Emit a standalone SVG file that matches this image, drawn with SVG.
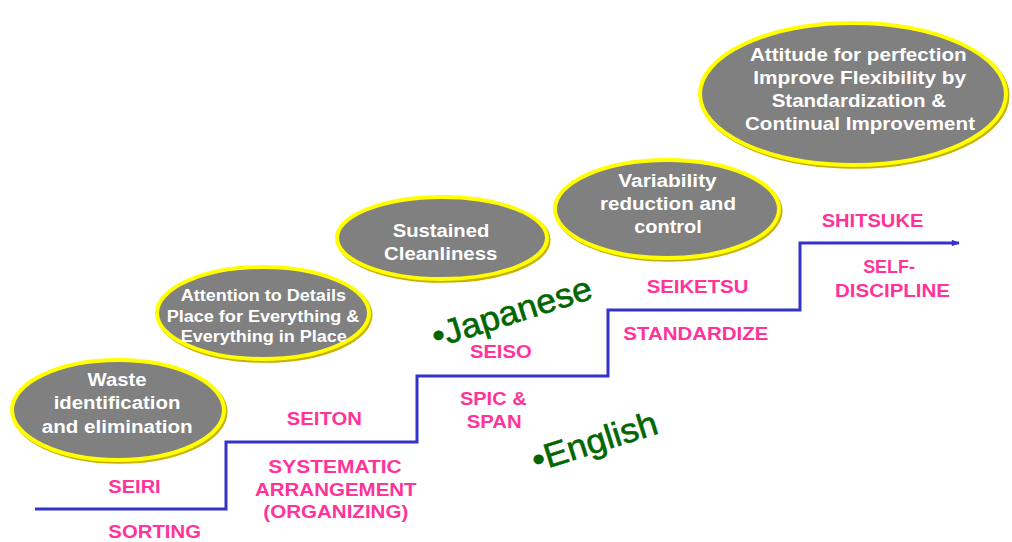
<svg xmlns="http://www.w3.org/2000/svg" width="1012" height="542" viewBox="0 0 1012 542">
<defs>
<style>
.sh{fill:#c0a800;stroke:#c8b000;stroke-width:4}
.el{fill:#808080;stroke:#ffff00;stroke-width:4}
.wt{font-family:"Liberation Sans",Arial,sans-serif;font-weight:bold;fill:#ffffff;text-anchor:middle}
.pk{font-family:"Liberation Sans",Arial,sans-serif;font-weight:bold;fill:#ff3399;font-size:18px;text-anchor:middle}
.gr{font-family:"Liberation Sans",Arial,sans-serif;fill:#006600;font-size:34px;stroke:#006600;stroke-width:0.6}
.ln{fill:none;stroke:#3333cc;stroke-width:3;stroke-linejoin:miter}
</style>
<marker id="arr" viewBox="0 0 10 10" refX="9" refY="5" markerWidth="10" markerHeight="8" markerUnits="userSpaceOnUse" orient="auto">
<path d="M0,1 L10,5 L0,9 Z" fill="#3333cc"/>
</marker>
</defs>
<rect width="1012" height="542" fill="#ffffff"/>

<g id="connectors">
<polyline class="ln" points="35,509 226,509 226,442 417,442 417,376 608,376 608,310 800,310 800,243 959,243" marker-end="url(#arr)"/>
</g>

<g id="node-seiri">
<ellipse class="sh" cx="119.5" cy="411.8" rx="106" ry="50"/>
<ellipse class="el" cx="118" cy="410" rx="106" ry="50"/>
<text class="wt" font-size="18" x="117" y="386" textLength="59" lengthAdjust="spacingAndGlyphs">Waste</text>
<text class="wt" font-size="18" x="117" y="409.3" textLength="126.7" lengthAdjust="spacingAndGlyphs">identification</text>
<text class="wt" font-size="18" x="117.2" y="432.7" textLength="151" lengthAdjust="spacingAndGlyphs">and elimination</text>
</g>

<g id="node-seiton">
<ellipse class="sh" cx="264.5" cy="314.8" rx="106" ry="46"/>
<ellipse class="el" cx="263" cy="313" rx="106" ry="46"/>
<text class="wt" font-size="16" x="263.3" y="300.7" textLength="165.3" lengthAdjust="spacingAndGlyphs">Attention to Details</text>
<text class="wt" font-size="16" x="263" y="321.5" textLength="192.7" lengthAdjust="spacingAndGlyphs">Place for Everything &amp;</text>
<text class="wt" font-size="16" x="263.7" y="341.7" textLength="166" lengthAdjust="spacingAndGlyphs">Everything in Place</text>
</g>

<g id="node-seiso">
<ellipse class="sh" cx="443.5" cy="239.8" rx="105" ry="41"/>
<ellipse class="el" cx="442" cy="238" rx="105" ry="41"/>
<text class="wt" font-size="18" x="441" y="236.7" textLength="96.7" lengthAdjust="spacingAndGlyphs">Sustained</text>
<text class="wt" font-size="18" x="440.7" y="260" textLength="113.3" lengthAdjust="spacingAndGlyphs">Cleanliness</text>
</g>

<g id="node-seiketsu">
<ellipse class="sh" cx="668.5" cy="210.8" rx="112" ry="49"/>
<ellipse class="el" cx="667" cy="209" rx="112" ry="49"/>
<text class="wt" font-size="18" x="667.5" y="186.7" textLength="98.3" lengthAdjust="spacingAndGlyphs">Variability</text>
<text class="wt" font-size="18" x="668" y="210" textLength="136" lengthAdjust="spacingAndGlyphs">reduction and</text>
<text class="wt" font-size="18" x="668" y="233" textLength="67.7" lengthAdjust="spacingAndGlyphs">control</text>
</g>

<g id="node-shitsuke">
<ellipse class="sh" cx="854.5" cy="95.8" rx="153" ry="71"/>
<ellipse class="el" cx="853" cy="94" rx="153" ry="71"/>
<text class="wt" font-size="18.5" x="858.3" y="60.5" textLength="216.7" lengthAdjust="spacingAndGlyphs">Attitude for perfection</text>
<text class="wt" font-size="18.5" x="859.7" y="83.5" textLength="212.7" lengthAdjust="spacingAndGlyphs">Improve Flexibility by</text>
<text class="wt" font-size="18.5" x="858.8" y="106.7" textLength="174.3" lengthAdjust="spacingAndGlyphs">Standardization &amp;</text>
<text class="wt" font-size="18.5" x="860" y="130" textLength="230" lengthAdjust="spacingAndGlyphs">Continual Improvement</text>
</g>

<g id="labels">
<text class="pk" x="134.5" y="493.3" textLength="52.4" lengthAdjust="spacingAndGlyphs">SEIRI</text>
<text class="pk" x="154.7" y="538.3" textLength="92.7" lengthAdjust="spacingAndGlyphs">SORTING</text>
<text class="pk" x="324.3" y="425" textLength="75" lengthAdjust="spacingAndGlyphs">SEITON</text>
<text class="pk" x="335" y="473.3" textLength="133.3" lengthAdjust="spacingAndGlyphs">SYSTEMATIC</text>
<text class="pk" x="335.8" y="495.5" textLength="161.7" lengthAdjust="spacingAndGlyphs">ARRANGEMENT</text>
<text class="pk" x="335.8" y="517.5" textLength="145" lengthAdjust="spacingAndGlyphs">(ORGANIZING)</text>
<text class="pk" x="500.8" y="358.3" textLength="61.7" lengthAdjust="spacingAndGlyphs">SEISO</text>
<text class="pk" x="493.3" y="405" textLength="66.7" lengthAdjust="spacingAndGlyphs">SPIC &amp;</text>
<text class="pk" x="494.2" y="428.3" textLength="55" lengthAdjust="spacingAndGlyphs">SPAN</text>
<text class="pk" x="697.5" y="293.3" textLength="101.7" lengthAdjust="spacingAndGlyphs">SEIKETSU</text>
<text class="pk" x="695.8" y="340" textLength="145" lengthAdjust="spacingAndGlyphs">STANDARDIZE</text>
<text class="pk" x="872.5" y="226.7" textLength="101.7" lengthAdjust="spacingAndGlyphs">SHITSUKE</text>
<text class="pk" x="889" y="273.3" textLength="51.7" lengthAdjust="spacingAndGlyphs">SELF-</text>
<text class="pk" x="892.5" y="297" textLength="115" lengthAdjust="spacingAndGlyphs">DISCIPLINE</text>
</g>

<g id="legend">
<text class="gr" transform="translate(436,348) rotate(-17.5)" x="0" y="0" textLength="166" lengthAdjust="spacingAndGlyphs">•Japanese</text>
<text class="gr" transform="translate(536,472) rotate(-17.5)" x="0" y="0" textLength="130" lengthAdjust="spacingAndGlyphs">•English</text>
</g>
</svg>
